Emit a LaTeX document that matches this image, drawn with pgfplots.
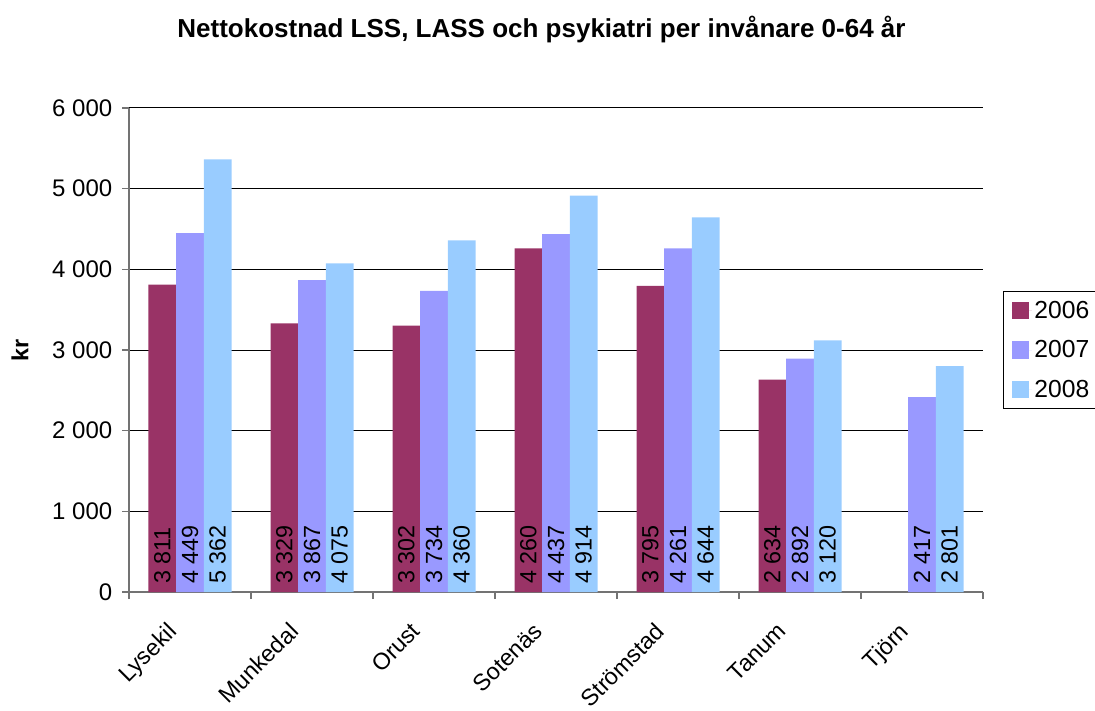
\documentclass[border=0pt]{standalone}
\usepackage{pgfplots}
\pgfplotsset{compat=1.18}
\usepackage{fontspec}
\setmainfont{Liberation Sans}
\definecolor{c2006}{HTML}{993366}
\definecolor{c2007}{HTML}{9999FF}
\definecolor{c2008}{HTML}{99CCFF}
\begin{document}
\begin{tikzpicture}
\useasboundingbox (-96.75pt,-88.5pt) rectangle (724.5pt,444pt);
\begin{axis}[
  at={(0,0)}, anchor=south west,
  scale only axis, width=640.5pt, height=363pt,
  ybar=0pt, bar width=20.75pt,
  xmin=-0.5, xmax=6.5, ymin=0, ymax=6000,
  axis x line*=bottom, axis y line*=left,
  xtick pos=bottom, ytick pos=left,
  axis line style={draw=black!55, line width=1pt},
  tick style={draw=black!55, line width=1pt},
  tick align=outside, major tick length=5.25pt,
  xtick={-0.5,0.5,1.5,2.5,3.5,4.5,5.5,6.5},
  xticklabels={,,,,,,,,},
  extra x ticks={0,1,2,3,4,5,6},
  extra x tick labels={Lysekil,Munkedal,Orust,Soten\"as,Str\"omstad,Tanum,Tj\"orn},
  extra x tick style={major tick length=0pt, grid=none,
     tick label style={xshift=-18pt, yshift=-17pt, rotate=45, anchor=north east, font=\fontsize{17.5}{20}\selectfont}},
  ytick={0,1000,...,6000},
  ymajorgrids, major grid style={draw=black, line width=0.75pt},
  /pgf/number format/assume math mode=true,
  /pgf/number format/1000 sep={\ },
  yticklabel style={font=\fontsize{18}{20}\selectfont, xshift=-3.75pt},
  ylabel={\textbf{kr}},
  ylabel style={at={(axis description cs:-0.1276,0.5)}, anchor=center, font=\fontsize{17.5}{20}\selectfont},
  title={\textbf{Nettokostnad LSS, LASS och psykiatri per invånare 0-64 år}},
  title style={at={(axis description cs:0.483,1)}, anchor=base, yshift=47pt, font=\fontsize{19.5}{22}\selectfont},
  nodes near coords,
  visualization depends on={y \as \rawy},
  every node near coord/.append style={shift={(axis direction cs:0,-\rawy)}, rotate=90, anchor=west,
     inner xsep=6pt, inner ysep=0pt, font=\fontsize{17.5}{20}\selectfont, text=black},
  legend style={at={(rel axis cs:1.0234,0.5)}, anchor=west, draw=black, line width=0.75pt,
     font=\fontsize{18.5}{20}\selectfont, row sep=11.25pt, inner xsep=6.25pt, inner ysep=5pt},
  legend cell align=left,
  legend image code/.code={\fill[#1] (0pt,-6.4pt) rectangle (12.75pt,6.4pt); \path (0pt,0pt) -- (15pt,0pt);},
]
\addplot[fill=c2006, draw=none] coordinates {(0,3811) (1,3329) (2,3302) (3,4260) (4,3795) (5,2634)};
\addplot[fill=c2007, draw=none] coordinates {(0,4449) (1,3867) (2,3734) (3,4437) (4,4261) (5,2892) (6,2417)};
\addplot[fill=c2008, draw=none] coordinates {(0,5362) (1,4075) (2,4360) (3,4914) (4,4644) (5,3120) (6,2801)};
\legend{2006,2007,2008}
\end{axis}
\end{tikzpicture}
\end{document}
